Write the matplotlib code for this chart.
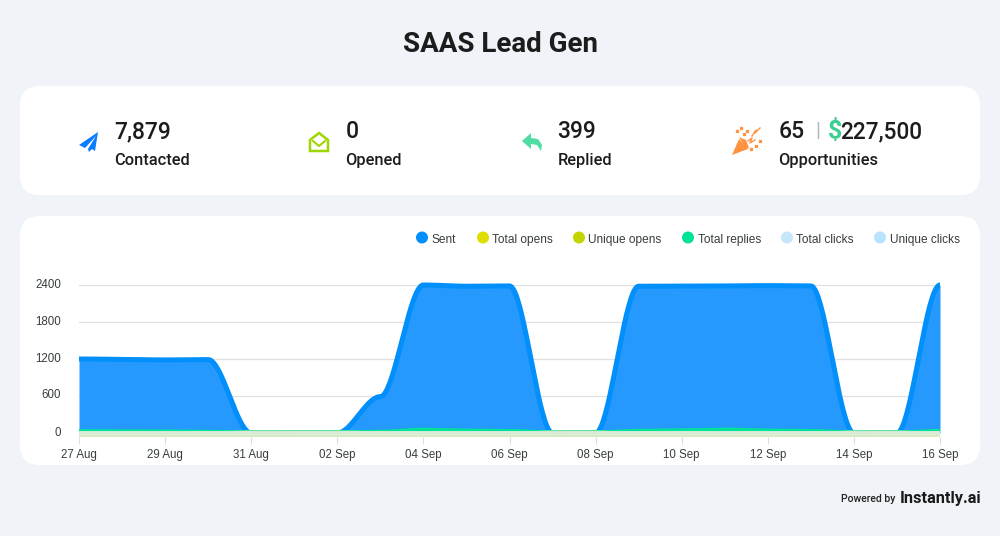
import numpy as np
import matplotlib
matplotlib.use("Agg")
import matplotlib.pyplot as plt
from matplotlib.patches import FancyBboxPatch, Polygon, Circle
from matplotlib.transforms import ScaledTranslation

W, H = 1000, 536

days = np.arange(21)
sent = [1200, 1195, 1185, 1190, 0, 0, 0, 590, 2400, 2380, 2385, 0, 0,
        2380, 2382, 2385, 2390, 2385, 0, 0, 2400]
total_replies = [22, 20, 18, 12, 0, 0, 0, 12, 45, 32, 26, 0, 0,
                 28, 35, 48, 32, 26, 0, 0, 26]
total_opens = [0] * 21
unique_opens = [0] * 21
total_clicks = [0] * 21
unique_clicks = [0] * 21

tick_days = [0, 2, 4, 6, 8, 10, 12, 14, 16, 18, 20]
tick_labels = ["27 Aug", "29 Aug", "31 Aug", "02 Sep", "04 Sep", "06 Sep",
               "08 Sep", "10 Sep", "12 Sep", "14 Sep", "16 Sep"]
y_ticks = [0, 600, 1200, 1800, 2400]

legend_names = ["Sent", "Total opens", "Unique opens", "Total replies",
                "Total clicks", "Unique clicks"]
legend_colors = ["#008ffb", "#dede00", "#c4d400", "#00e396", "#c6e6fa", "#b9e3fd"]
legend_x = [422, 483, 579, 688, 787, 880]

stats = [("7,879", "Contacted", 114.5), ("0", "Opened", 345.5), ("399", "Replied", 557.5)]

UI = "Roboto"
DARK = "#1c1c1c"


def smooth(x, y, n=40):
    # every day is a flat-tangent point, like the chart's curve
    xs, ys = [], []
    for i in range(len(x) - 1):
        t = np.linspace(0, 1, n)
        xs.append(x[i] + (x[i + 1] - x[i]) * t)
        ys.append(y[i] + (y[i + 1] - y[i]) * (3 * t ** 2 - 2 * t ** 3))
    return np.concatenate(xs), np.concatenate(ys)


def rounded(ax, x0, y0, x1, y1, r):
    ax.add_patch(FancyBboxPatch((x0 + r, y0 + r), x1 - x0 - 2 * r, y1 - y0 - 2 * r,
                                boxstyle="round,pad=%d,rounding_size=%d" % (r, r),
                                fc="white", ec="none"))


fig = plt.figure(figsize=(W / 100, H / 100), dpi=100, facecolor="#f0f3f8")

bg = fig.add_axes([0, 0, 1, 1])
bg.set_xlim(0, W)
bg.set_ylim(H, 0)
bg.axis("off")

rounded(bg, 20, 86, 980, 195, 20)
rounded(bg, 20, 216, 980, 465, 20)

bg.text(500.5, 51.5, "SAAS Lead Gen", ha="center", va="baseline", family=UI,
        fontsize=20, fontweight="bold", color=DARK)

for value, label, x in stats:
    bg.text(x, 138, value, va="baseline", family=UI, fontsize=16.5, color=DARK, fontweight="medium")
    bg.text(x, 165, label, va="baseline", family=UI, fontsize=11.8, color=DARK, fontweight="medium")

bg.text(778.5, 138, "65", va="baseline", family=UI, fontsize=16.5, color=DARK, fontweight="medium")
bg.text(815, 137, "|", va="baseline", family=UI, fontsize=15, color="#b5b5b5")
bg.text(828, 138, "$", va="baseline", family=UI, fontsize=18, color="#3ccf91", fontweight="bold")
bg.text(840.5, 138, "227,500", va="baseline", family=UI, fontsize=16.3, color=DARK, fontweight="medium")
bg.text(778.5, 165, "Opportunities", va="baseline", family=UI, fontsize=11.8, color=DARK, fontweight="medium")

# icons
bg.add_patch(Polygon([(98, 132), (79, 145), (85, 148), (96, 136), (88, 149), (89, 152),
                      (92, 149), (95, 151)], fc="#0a7cff", ec="none"))
bg.add_patch(Polygon([(310, 140), (319, 133), (328, 140), (328, 151), (310, 151)],
                     fc="none", ec="#9fd600", lw=1.8, joinstyle="miter"))
bg.plot([313, 319, 325], [141, 146, 141], color="#9fd600", lw=1.5)
bg.add_patch(Polygon([(522, 141), (531, 133), (531, 138), (538, 139), (542, 145), (541, 151),
                      (537, 145), (531, 144), (531, 149)], fc="#4fdca5", ec="none"))
bg.add_patch(Polygon([(732, 155), (739, 139), (748, 149)], fc="#ff9240", ec="none"))
bg.add_patch(Polygon([(739, 137), (746, 140), (749, 148), (746, 149)], fc="#ff9240", ec="none"))
bg.plot([748, 752, 750, 755], [141, 138, 143, 140], color="#ff9240", lw=1)
bg.plot([752, 756, 755, 760], [136, 130, 133, 128], color="#ff9240", lw=1)
bg.plot([737, 741, 744, 751, 756, 760, 747], [131, 128, 134, 149, 146, 141, 131],
        color="#ff9240", lw=0, marker="s", ms=1.4)

# legend
for name, color, x in zip(legend_names, legend_colors, legend_x):
    bg.add_patch(Circle((x, 237.5), 6, fc=color, ec="none"))
    bg.text(x + 9.5, 240, name, va="center", family="Liberation Sans", fontsize=8.6, color="#373d3f")

bg.text(841, 499.5, "Powered by", va="center", family=UI, fontsize=7.6, color="#222222", fontweight="medium")
bg.text(900, 499, "Instantly.ai", va="center", family=UI, fontsize=11.8, color="#1a1a1a", fontweight="bold")

# chart, zero sits at y=433 and 2400 at y=285
scale = (433 - 285) / 2400
top, bottom = 268, 436.5
ax = fig.add_axes([79 / W, 1 - bottom / H, (940 - 79) / W, (bottom - top) / H])
ax.patch.set_alpha(0)
ax.set_xlim(0, 20)
ax.set_ylim(-(bottom - 433) / scale, (433 - top) / scale)
for s in ax.spines.values():
    s.set_visible(False)

ax.set_yticks(y_ticks)
ax.set_yticklabels([str(v) for v in y_ticks], family="Liberation Sans", fontsize=8.3, color="#373d3f")
ax.tick_params(axis="y", length=0, pad=13)
up = ScaledTranslation(0, 2 / 100, fig.dpi_scale_trans)
for lab in ax.get_yticklabels():
    lab.set_transform(lab.get_transform() + up)
ax.set_xticks(tick_days)
ax.set_xticklabels(tick_labels, family="Liberation Sans", fontsize=8.3, color="#373d3f")
ax.tick_params(axis="x", length=5, width=0.8, color="#dcdcdc", pad=4)
ax.grid(axis="y", color="#e1e1e1", lw=0.9)
ax.set_axisbelow(True)

px = 0.72
xs, ys = smooth(days, np.array(sent, float))
ax.fill_between(xs, 0, ys, color="#2699ff", lw=0)
ax.plot(xs, ys, color="#008ffb", lw=5 * px, solid_joinstyle="round")

for series in [total_opens, unique_opens]:
    xs, ys = smooth(days, np.array(series, float))
    ax.plot(xs, ys, color="#d8ebb0", lw=6.5 * px)

xs, ys = smooth(days, np.array(total_replies, float))
ax.plot(xs, ys, color="#00e396", lw=5 * px)

for series in [total_clicks, unique_clicks]:
    xs, ys = smooth(days, np.array(series, float))
    ax.plot(xs, ys, color="#dbebd6", lw=4.6 * px)

fig.savefig("out.png", dpi=100, facecolor=fig.get_facecolor())
